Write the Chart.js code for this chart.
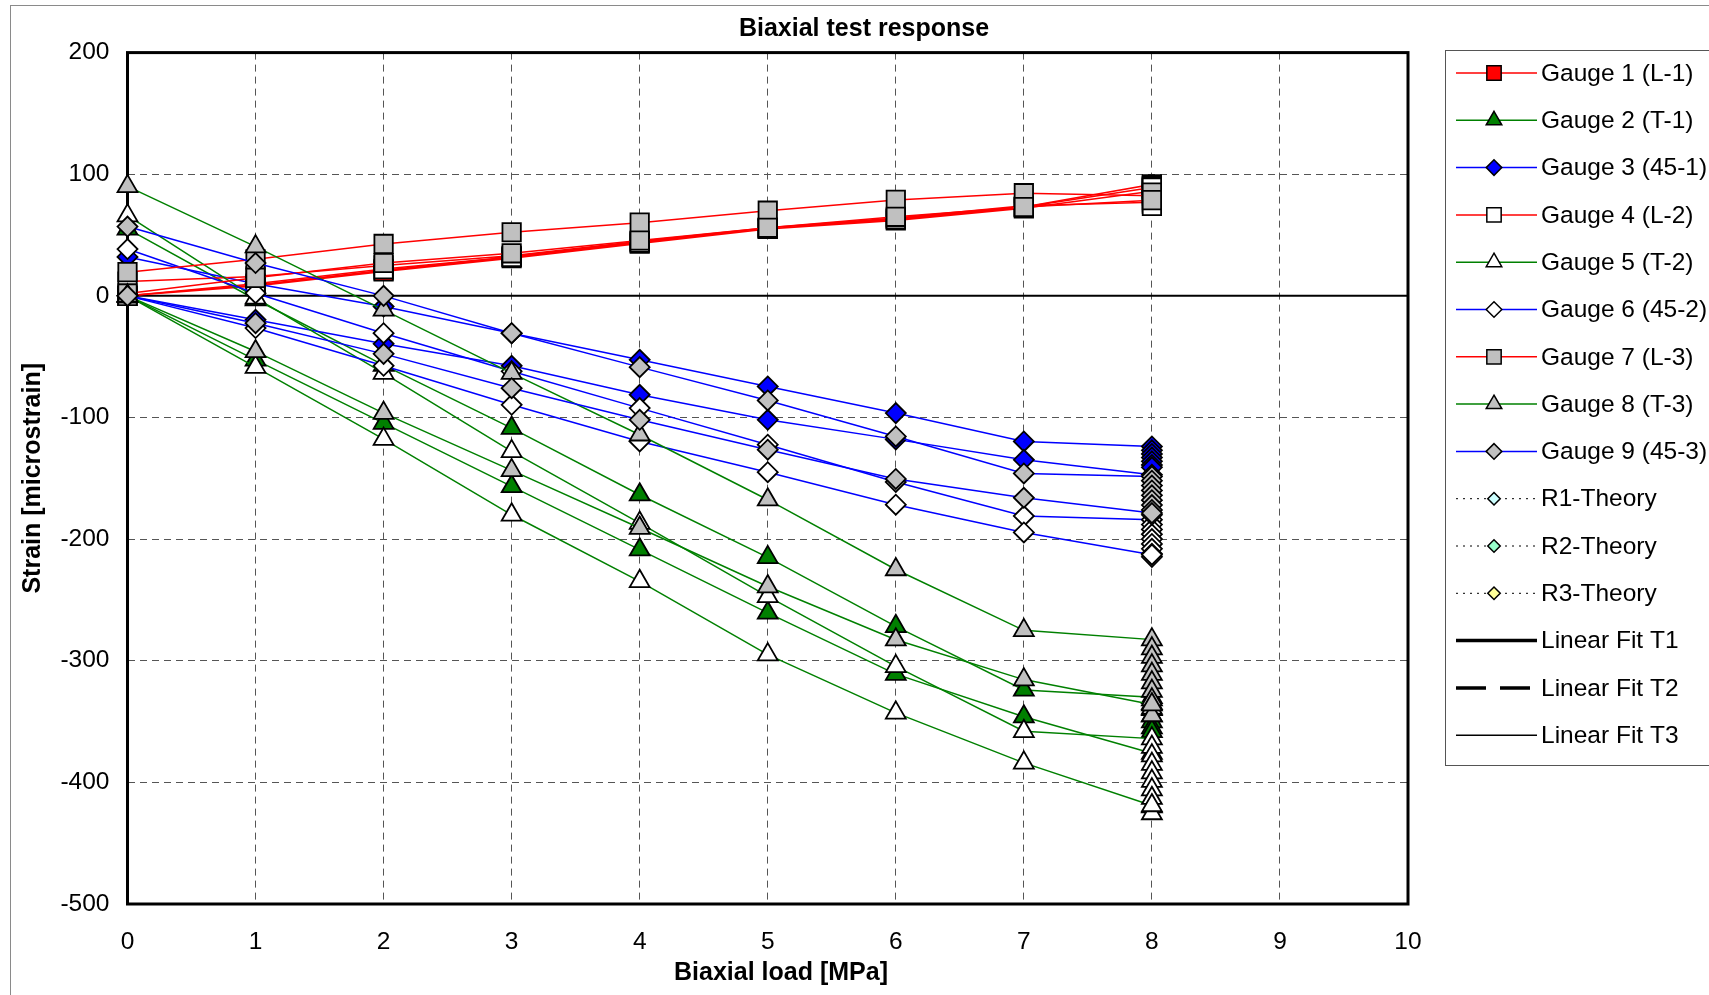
<!DOCTYPE html>
<html lang="en">
<head>
<meta charset="UTF-8">
<title>Biaxial test response</title>
<script src="https://cdn.jsdelivr.net/npm/chart.js"></script>
<style>
  html, body { margin: 0; padding: 0; background: #fff; overflow: hidden; }
</style>
</head>
<body>
<canvas id="biaxChart" width="1709" height="995"></canvas>

<script>
// load steps [MPa]
const load = [0, 1, 2, 3, 4, 5, 6, 7, 8];

// each gauge: first loading run, creep readings held at 8 MPa, second loading run (microstrain)
const g1RunA = [0, 9, 21, 32, 44, 55, 63, 73, 91.6];
const g1Hold = [91, 90.4, 89.8, 89.2, 88.6, 88];
const g1RunB = [0, 8, 20, 31, 43, 55, 62, 72, 86];

const g2RunA = [55, -3, -57, -108.7, -163.5, -215, -271.7, -324, -330];
const g2Hold = [-335, -340, -345, -350, -355, -358];
const g2RunB = [0, -52.6, -104.6, -156.7, -208.7, -260.7, -311, -346, -376];

const g3RunA = [32, 10, -8.8, -30.7, -52.6, -74.5, -96.4, -119.7, -123.8];
const g3Hold = [-127, -130, -133, -136, -139, -141];
const g3RunB = [0, -19.7, -39.4, -57.5, -81.3, -101.9, -118, -134.8, -147];

const g4RunA = [11.8, 16, 25, 33, 45, 56, 64, 74, 76.9];
const g4Hold = [75.5, 74];
const g4RunB = [0, 10, 22, 32, 44, 56, 63, 73, 89];

const g5RunA = [66, -1.7, -63.5, -127.9, -186.8, -247, -304.6, -358, -364];
const g5Hold = [-371, -378, -385, -392, -399, -406, -413, -420, -425.6];
const g5RunB = [0, -58.6, -117.8, -180, -234.7, -295, -342.9, -384, -419];

const g6RunA = [38.5, 2.2, -30.7, -62, -92.3, -122.4, -153, -181, -184];
const g6Hold = [-188, -192, -196, -200, -204, -208, -212, -214.6];
const g6RunB = [0, -26.5, -57.5, -89.6, -119.7, -145, -171.7, -194.5, -212.8];

const g7RunA = [19.5, 30, 42.7, 52.3, 60.2, 70, 78.9, 84.4, 82.4];
const g7Hold = [84, 85];
const g7RunB = [2, 14.8, 27, 35, 45.5, 56, 65, 73, 78.7];

const g8RunA = [90, 40.5, -11.5, -63.5, -114.2, -167.6, -225, -275, -282.6];
const g8Hold = [-290, -297, -304, -311, -318, -325, -332, -339, -345];
const g8RunB = [0, -45.7, -96.4, -143.5, -190.9, -239, -282.7, -315.5, -336];

const g9RunA = [57, 27, 0, -30.7, -58.6, -86, -115.6, -146, -148.5];
const g9Hold = [-152, -156, -160, -164, -168, -172, -176, -180];
const g9RunB = [0, -22.5, -47.7, -75.9, -101.9, -126.5, -150.5, -166, -178.6];

const fontFam = '"Liberation Sans", Arial, sans-serif';
Chart.defaults.font.family = fontFam;
Chart.defaults.color = '#000';

const RED = '#ff0000', GREEN = '#008000', BLUE = '#0000ff', GREY = '#c0c0c0', WHITE = '#ffffff';
const markerSize = { rect: 13, triangle: 11.5, rectRot: 10 };

function track(runA, hold, runB) {
  const last = load[load.length - 1];
  const pts = runA.map((v, i) => ({ x: load[i], y: v }));
  hold.forEach(v => pts.push({ x: last, y: v }));
  pts.push({ x: last, y: null });
  runB.forEach((v, i) => pts.push({ x: load[i], y: v }));
  return pts;
}

function gauge(label, line, fill, shape, data) {
  return {
    label: label, data: data, showLine: true, tension: 0, clip: false,
    borderColor: line, borderWidth: 1.5,
    pointStyle: shape, pointRadius: markerSize[shape], pointHoverRadius: markerSize[shape],
    pointBackgroundColor: fill, pointBorderColor: '#000', pointBorderWidth: 1.8
  };
}

function legendOnly(label, opts) {
  return Object.assign({ label: label, data: [], showLine: true, pointRadius: 0, borderColor: '#000', borderWidth: 1.5 }, opts);
}

const datasets = [
  gauge('Gauge 1 (L-1)', RED, RED, 'rect', track(g1RunA, g1Hold, g1RunB)),
  gauge('Gauge 2 (T-1)', GREEN, GREEN, 'triangle', track(g2RunA, g2Hold, g2RunB)),
  gauge('Gauge 3 (45-1)', BLUE, BLUE, 'rectRot', track(g3RunA, g3Hold, g3RunB)),
  gauge('Gauge 4 (L-2)', RED, WHITE, 'rect', track(g4RunA, g4Hold, g4RunB)),
  gauge('Gauge 5 (T-2)', GREEN, WHITE, 'triangle', track(g5RunA, g5Hold, g5RunB)),
  gauge('Gauge 6 (45-2)', BLUE, WHITE, 'rectRot', track(g6RunA, g6Hold, g6RunB)),
  gauge('Gauge 7 (L-3)', RED, GREY, 'rect', track(g7RunA, g7Hold, g7RunB)),
  gauge('Gauge 8 (T-3)', GREEN, GREY, 'triangle', track(g8RunA, g8Hold, g8RunB)),
  gauge('Gauge 9 (45-3)', BLUE, GREY, 'rectRot', track(g9RunA, g9Hold, g9RunB)),
  legendOnly('R1-Theory', { borderDash: [2, 5], borderWidth: 1, pointStyle: 'rectRot', pointRadius: 8, pointBackgroundColor: '#ccffff', pointBorderColor: '#000' }),
  legendOnly('R2-Theory', { borderDash: [2, 5], borderWidth: 1, pointStyle: 'rectRot', pointRadius: 8, pointBackgroundColor: '#99ffcc', pointBorderColor: '#000' }),
  legendOnly('R3-Theory', { borderDash: [2, 5], borderWidth: 1, pointStyle: 'rectRot', pointRadius: 8, pointBackgroundColor: '#ffff99', pointBorderColor: '#000' }),
  legendOnly('Linear Fit T1', { borderWidth: 3.5 }),
  legendOnly('Linear Fit T2', { borderWidth: 3.5, borderDash: [30, 14] }),
  legendOnly('Linear Fit T3', { borderWidth: 1.5 })
];
// later series drawn on top, like the spreadsheet
datasets.forEach((ds, i) => { ds.order = -i; });

// plot frame and zero line
const framePlugin = {
  id: 'frame',
  beforeDatasetsDraw(chart) {
    const { ctx, chartArea: a, scales } = chart;
    const y0 = scales.y.getPixelForValue(0);
    ctx.save();
    ctx.strokeStyle = '#000';
    ctx.lineWidth = 2;
    ctx.beginPath();
    ctx.moveTo(a.left, y0);
    ctx.lineTo(a.right, y0);
    ctx.stroke();
    ctx.lineWidth = 3;
    ctx.strokeRect(a.left, a.top, a.right - a.left, a.bottom - a.top);
    ctx.restore();
  }
};

// outer border, titles and boxed legend
const decorPlugin = {
  id: 'decor',
  afterDraw(chart) {
    const ctx = chart.ctx;
    ctx.save();
    ctx.strokeStyle = '#8a8a8a';
    ctx.lineWidth = 1;
    ctx.strokeRect(10.5, 5.5, 1800, 1200);

    ctx.fillStyle = '#000';
    ctx.font = 'bold 25px ' + fontFam;
    ctx.textAlign = 'center';
    ctx.textBaseline = 'middle';
    ctx.fillText('Biaxial test response', 864, 29.5);
    ctx.fillText('Biaxial load [MPa]', 781, 973);

    const lx = 1445, ly = 50, row = 47.3, firstY = 73;
    ctx.strokeStyle = '#555';
    ctx.strokeRect(lx + 0.5, ly + 0.5, 400, 715);
    ctx.textAlign = 'left';
    ctx.font = '24.5px ' + fontFam;
    chart.data.datasets.forEach((ds, i) => {
      const cy = firstY + i * row;
      ctx.beginPath();
      ctx.setLineDash(ds.borderDash || []);
      ctx.lineWidth = ds.borderWidth;
      ctx.strokeStyle = ds.borderColor;
      ctx.moveTo(1456, cy);
      ctx.lineTo(1537, cy);
      ctx.stroke();
      ctx.setLineDash([]);
      if (ds.pointRadius > 0) {
        ctx.fillStyle = ds.pointBackgroundColor;
        ctx.strokeStyle = ds.pointBorderColor;
        ctx.lineWidth = 1.5;
        Chart.helpers.drawPoint(ctx, { pointStyle: ds.pointStyle, radius: ds.pointRadius * 0.78, borderWidth: 1.5, rotation: 0 }, 1494, cy);
      }
      ctx.fillStyle = '#000';
      ctx.fillText(ds.label, 1541, cy + 1);
    });
    ctx.restore();
  }
};

new Chart(document.getElementById('biaxChart').getContext('2d'), {
  type: 'scatter',
  data: { datasets: datasets },
  options: {
    responsive: false,
    animation: false,
    layout: { padding: { left: 10, right: 301, top: 52.6, bottom: 5 } },
    plugins: { legend: { display: false }, tooltip: { enabled: false } },
    scales: {
      x: {
        type: 'linear', min: 0, max: 10,
        ticks: { stepSize: 1, padding: 24, font: { size: 24.5 } },
        grid: { color: '#555', lineWidth: 1, drawTicks: false },
        border: { display: false, dash: [7, 5] },
        title: { display: false },
        afterFit(scale) { scale.height = 86; }
      },
      y: {
        type: 'linear', min: -500, max: 200,
        ticks: { stepSize: 100, padding: 18, font: { size: 24.5 } },
        grid: { color: '#555', lineWidth: 1, drawTicks: false },
        border: { display: false, dash: [7, 5] },
        title: { display: true, text: 'Strain [microstrain]', font: { size: 25, weight: 'bold' }, padding: { top: 8, bottom: 0 } },
        afterFit(scale) { scale.width = 117.5; }
      }
    }
  },
  plugins: [framePlugin, decorPlugin]
});
</script>
</body>
</html>
